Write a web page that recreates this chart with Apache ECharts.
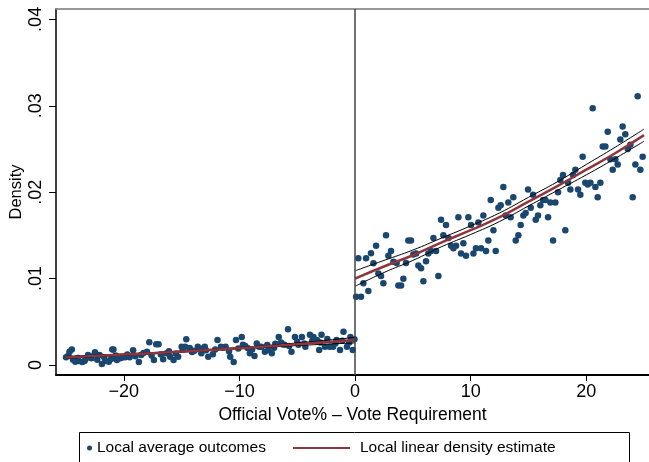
<!DOCTYPE html>
<html lang="en">
<head>
	<meta charset="UTF-8">
	<title>Density</title>
	<style type="text/css">
		html, body { margin: 0; padding: 0; background: #fff; }
		#main { width: 649px; height: 462px; }
	</style>
	<script src="https://cdn.jsdelivr.net/npm/echarts@6/dist/echarts.min.js"></script>
</head>
<body>
	<div id="main"></div>
	<script type="text/javascript">
	// bin averages, left of the cutoff
	var leftX = [-25.0,-24.8,-24.7,-24.5,-24.4,-24.2,-24.0,-23.9,-23.6,-23.4,-23.3,-23.1,-22.9,-22.8,-22.5,-22.3,-22.1,-21.9,-21.7,-21.6,
		-21.3,-21.1,-21.0,-20.9,-20.7,-20.6,-20.3,-20.1,-19.9,-19.7,-19.5,-19.2,-19.0,-18.7,-18.5,-18.3,-18.0,-17.8,-17.6,-17.4,
		-17.2,-17.0,-16.8,-16.6,-16.3,-16.1,-16.0,-15.7,-15.5,-15.3,-15.0,-14.9,-14.7,-14.6,-14.3,-14.1,-13.9,-13.6,-13.4,-13.3,
		-13.0,-12.9,-12.7,-12.3,-12.1,-11.9,-11.6,-11.4,-11.2,-10.9,-10.8,-10.5,-10.3,-10.1,-9.8,-9.7,-9.5,-9.3,-9.1,-8.9,
		-8.7,-8.5,-8.3,-8.1,-7.8,-7.6,-7.5,-7.2,-7.0,-6.9,-6.6,-6.4,-6.3,-6.1,-5.8,-5.7,-5.5,-5.2,-5.0,-4.9,
		-4.6,-4.4,-4.3,-3.9,-3.7,-3.6,-3.3,-3.1,-3.0,-2.9,-2.6,-2.4,-2.2,-1.9,-1.7,-1.6,-1.3,-1.1,-1.0,-0.7,
		-0.5,-0.4,-0.2,-0.05];
	var leftY = [0.00089,0.00110,0.00154,0.00180,0.00060,0.00038,0.00080,0.00045,0.00034,0.00045,0.00070,0.00116,0.00100,0.00077,0.00146,0.00060,0.00116,0.00010,0.00090,0.00045,
		0.00038,0.00070,0.00180,0.00180,0.00110,0.00058,0.00077,0.00090,0.00089,0.00120,0.00089,0.00170,0.00100,0.00034,0.00116,0.00140,0.00154,0.00262,0.00110,0.00058,
		0.00240,0.00240,0.00120,0.00065,0.00135,0.00160,0.00096,0.00058,0.00130,0.00096,0.00212,0.00180,0.00212,0.00297,0.00196,0.00150,0.00166,0.00212,0.00190,0.00135,
		0.00212,0.00170,0.00096,0.00123,0.00180,0.00290,0.00212,0.00200,0.00212,0.00160,0.00096,0.00034,0.00290,0.00190,0.00324,0.00235,0.00220,0.00196,0.00135,0.00180,
		0.00104,0.00250,0.00210,0.00212,0.00154,0.00230,0.00173,0.00135,0.00200,0.00247,0.00324,0.00260,0.00240,0.00235,0.00413,0.00220,0.00154,0.00324,0.00270,0.00235,
		0.00324,0.00250,0.00212,0.00350,0.00280,0.00324,0.00290,0.00173,0.00260,0.00350,0.00212,0.00300,0.00212,0.00212,0.00250,0.00290,0.00173,0.00280,0.00386,0.00212,
		0.00260,0.00324,0.00173,0.00297];
	// bin averages, right of the cutoff
	var rightX = [0.09,0.28,0.52,0.72,0.95,1.15,1.38,1.59,1.82,2.02,2.25,2.45,2.68,2.88,3.11,3.32,3.60,3.75,3.98,4.18,
		4.41,4.61,4.84,5.04,5.28,5.48,5.71,5.91,6.14,6.34,6.57,6.78,7.01,7.21,7.44,7.64,7.87,8.08,8.31,8.51,
		8.74,8.94,9.17,9.37,9.60,9.80,10.03,10.24,10.46,10.67,10.90,11.10,11.33,11.53,11.74,11.97,12.17,12.40,12.60,12.83,
		13.03,13.26,13.46,13.69,13.90,14.13,14.33,14.56,14.76,14.97,15.20,15.40,15.63,15.83,16.03,16.27,16.47,16.70,16.90,17.13,
		17.33,17.56,17.76,17.99,18.19,18.43,18.63,18.86,19.06,19.29,19.49,19.69,19.92,20.13,20.36,20.56,20.79,20.99,21.22,21.43,
		21.66,21.86,22.09,22.29,22.52,22.72,22.95,23.15,23.38,23.59,23.82,24.02,24.25,24.45,24.68,24.88];
	var rightY = [0.0079,0.01235,0.0079,0.00945,0.01235,0.00856,0.01292,0.01177,0.0138,0.0106,0.0103,0.00945,0.0150,0.01265,0.0132,0.01195,0.0118,0.0092,0.0092,0.00997,
		0.0118,0.0144,0.0144,0.0128,0.0129,0.0115,0.0112,0.0097,0.0120,0.0129,0.0132,0.0147,0.0132,0.0103,0.0168,0.0150,0.0162,0.0147,0.0138,0.0135,
		0.0138,0.0171,0.0129,0.0141,0.01265,0.0171,0.0162,0.0129,0.0135,0.0165,0.0135,0.0173,0.0132,0.0144,0.0191,0.0156,0.0132,0.0182,0.0185,0.0206,
		0.0173,0.0188,0.0171,0.0194,0.0144,0.0150,0.0162,0.0173,0.0176,0.0203,0.0182,0.0197,0.0168,0.0173,0.0185,0.0191,0.0191,0.0171,0.0188,0.0144,
		0.0188,0.0200,0.0214,0.0220,0.0156,0.0211,0.0203,0.0220,0.0226,0.0203,0.0197,0.0241,0.0211,0.0209,0.0211,0.0297,0.0206,0.0194,0.0211,0.0253,
		0.0253,0.0270,0.0238,0.0226,0.0238,0.0232,0.0261,0.0276,0.0267,0.0250,0.0255,0.0194,0.0232,0.0311,0.0226,0.0241];

	// local linear fit and its bands
	var fitXL = [-25, -20, -15, -10, -5, 0];
	var fitL = [0.00088, 0.00120, 0.00155, 0.00195, 0.00240, 0.00290];
	var hiL  = [0.00100, 0.00128, 0.00162, 0.00203, 0.00255, 0.00320];
	var loL  = [0.00078, 0.00113, 0.00148, 0.00187, 0.00225, 0.00255];
	var fitXR = [0, 2.5, 5, 7.5, 10, 12.5, 15, 17.5, 20, 22.5, 25];
	var fitR = [0.0100, 0.0114, 0.0127, 0.0142, 0.0156, 0.0171, 0.0189, 0.0207, 0.0226, 0.0245, 0.0266];
	var hiR  = [0.0109, 0.0121, 0.0133, 0.0147, 0.0161, 0.0176, 0.0194, 0.0212, 0.0232, 0.0252, 0.0273];
	var loR  = [0.0091, 0.0107, 0.0121, 0.0137, 0.0151, 0.0166, 0.0184, 0.0202, 0.0220, 0.0239, 0.0259];

	var xTicks = [-20, -10, 0, 10, 20];
	var yTicks = [0, 0.01, 0.02, 0.03, 0.04];

	var font = 'Liberation Sans, Arial, sans-serif';
	var navy = '#1a476f', maroon = '#90353b';

	function pairs(xs, ys) {
		var out = [];
		for (var i = 0; i < xs.length; i++) out.push([xs[i], ys[i]]);
		return out;
	}
	function lineSeries(name, xs, ys, color, width, z) {
		return {
			name: name, type: 'line', data: pairs(xs, ys), smooth: true,
			showSymbol: false, symbol: 'none', silent: true, z: z,
			lineStyle: { color: color, width: width }, itemStyle: { color: color }
		};
	}

	var myChart = echarts.init(document.getElementById('main'));
	var option = {
		animation: false,
		backgroundColor: '#fff',
		grid: { left: 56, right: 0, top: 9, bottom: 87, outerBoundsMode: 'none', containLabel: false },
		legend: [{
			left: 87, top: 440, padding: 0, itemWidth: 5, itemHeight: 5,
			data: [{ name: 'Local average outcomes', icon: 'circle' }],
			textStyle: { fontFamily: font, fontSize: 15.5, color: '#000' }
		}, {
			left: 293, top: 440, padding: 0, itemWidth: 57, itemHeight: 2,
			data: [{ name: 'Local linear density estimate', icon: 'rect', itemStyle: { color: maroon } }],
			textStyle: { fontFamily: font, fontSize: 15.5, color: '#000', padding: [0, 0, 0, 5] }
		}],
		graphic: [{
			type: 'rect', shape: { x: 79.5, y: 432.5, width: 550, height: 40 },
			style: { fill: 'none', stroke: '#000', lineWidth: 1 }, silent: true
		}],
		xAxis: [{
			type: 'value', min: -25.87, max: 25.43, position: 'bottom',
			name: 'Official Vote% \u2013 Vote Requirement', nameLocation: 'middle', nameGap: 27,
			nameTextStyle: { fontFamily: font, fontSize: 17.5, color: '#000' },
			splitLine: { show: false },
			axisLine: { onZero: false, lineStyle: { color: '#000', width: 2 } },
			axisTick: { customValues: xTicks, length: 6, lineStyle: { color: '#000' } },
			axisLabel: {
				customValues: xTicks, margin: 8, fontFamily: font, fontSize: 18, color: '#000',
				formatter: function (v) { return String(v).replace('-', '\u2212'); }
			}
		}, {
			type: 'value', min: -25.87, max: 25.43, position: 'top',
			axisLine: { show: true, onZero: false, lineStyle: { color: '#777', width: 1.5 } },
			axisTick: { show: false }, axisLabel: { show: false }, splitLine: { show: false }
		}],
		yAxis: {
			type: 'value', min: -0.00116, max: 0.0412,
			name: 'Density', nameLocation: 'middle', nameGap: 31, nameMoveOverlap: false,
			nameTextStyle: { fontFamily: font, fontSize: 16.5, color: '#000' },
			splitLine: { show: false },
			axisLine: { show: true, onZero: false, lineStyle: { color: '#000', width: 1.5 } },
			axisTick: { show: true, customValues: yTicks, length: 7, lineStyle: { color: '#000' } },
			axisLabel: {
				customValues: yTicks, rotate: 90, margin: 11, fontFamily: font, fontSize: 18, color: '#000',
				formatter: function (v) { return v === 0 ? '0' : String(+v.toFixed(2)).replace(/^0/, ''); }
			}
		},
		series: [{
			name: 'Local average outcomes', type: 'scatter', symbolSize: 6.5, z: 2,
			itemStyle: { color: navy, opacity: 1 },
			data: pairs(leftX, leftY).concat(pairs(rightX, rightY)),
			markLine: {
				silent: true, symbol: ['none', 'none'], label: { show: false },
				lineStyle: { color: '#444', width: 1.5, type: 'solid' },
				data: [{ xAxis: 0 }]
			}
		},
			lineSeries('ciHiL', fitXL, hiL, '#000', 1, 3),
			lineSeries('ciLoL', fitXL, loL, '#000', 1, 3),
			lineSeries('ciHiR', fitXR, hiR, '#000', 1, 3),
			lineSeries('ciLoR', fitXR, loR, '#000', 1, 3),
			lineSeries('Local linear density estimate', fitXL, fitL, maroon, 2.5, 4),
			lineSeries('Local linear density estimate', fitXR, fitR, maroon, 2.5, 4)
		]
	};
	myChart.setOption(option);
	</script>
</body>
</html>
